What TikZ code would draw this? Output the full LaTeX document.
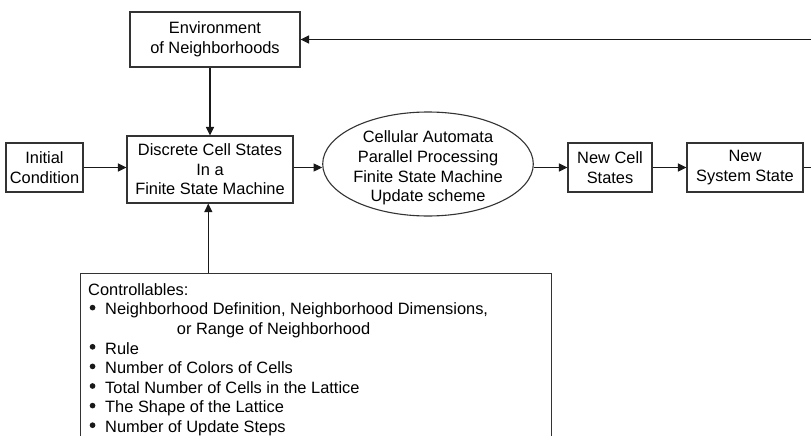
\documentclass[tikz,border=0pt]{standalone}
\usepackage{fontspec}
\setmainfont{Liberation Sans}
\usetikzlibrary{arrows.meta,shapes.geometric}
\newcommand\ctrlbullet{\hspace*{1.5pt}\makebox[15.5pt][l]{\tikz[baseline=0pt]\fill[black!90] (2.85pt,7.2pt) circle[radius=2.85pt];}}
\begin{document}
\begin{tikzpicture}[x=1pt,y=-1pt,
  font=\fontsize{16.4}{19.6}\selectfont,
  line width=1.1pt,
  box/.style={draw=black!80, rectangle, inner sep=0pt, align=center},
  arr/.style={draw=black!90, -{Triangle[length=8.5pt,width=8pt]}},
]
\clip (0,0) rectangle (811,436);

\node[box, minimum width=170pt, minimum height=55pt] (env) at (215,39.5) {Environment\\of Neighborhoods};
\node[box, minimum width=77pt, minimum height=49pt] (init) at (44.5,167.5) {Initial\\Condition};
\node[box, minimum width=166pt, minimum height=67pt] (disc) at (210,169.5) {Discrete Cell States\\In a\\Finite State Machine};
\node[draw=black!80, ellipse, minimum width=210.6pt, minimum height=104pt, inner sep=0pt] (ell) at (428,164) {};
\node[align=center, inner sep=0pt] (elltext) at (428,168) {Cellular Automata\\Parallel Processing\\Finite State Machine\\Update scheme};
\node[box, minimum width=84pt, minimum height=49pt] (newcell) at (610,167.5) {New Cell\\States};
\node[box, minimum width=116pt, minimum height=49pt] (nss) at (745,167.5) {New\\System State};

\node[draw=black!80, minimum width=471pt, minimum height=200pt, inner sep=0pt, anchor=north west] (ctrl) at (80,273) {};
\node[anchor=north west, inner sep=0pt, align=left] (ctrltext) at (88,282) {\rule{0pt}{13pt}Controllables:\\
\ctrlbullet Neighborhood Definition, Neighborhood Dimensions,\\
\hspace*{88.7pt}or Range of Neighborhood\\
\ctrlbullet Rule\\
\ctrlbullet Number of Colors of Cells\\
\ctrlbullet Total Number of Cells in the Lattice\\
\ctrlbullet The Shape of the Lattice\\
\ctrlbullet Number of Update Steps};

\draw[arr] (init.east) -- (init.east -| disc.west);
\draw[arr] (init.east -| disc.east) -- (init.east -| ell.west);
\draw[arr] (init.east -| ell.east) -- (newcell.west);
\draw[arr] (newcell.east) -- (nss.west);
\draw[arr] (nss.east) -- ++(40,0) |- (env.east);
\draw[arr] (disc.north |- env.south) -- (disc.north);
\draw[arr] ([xshift=-1.7pt]disc.south |- ctrl.north) -- ([xshift=-1.7pt]disc.south);
\end{tikzpicture}
\end{document}
